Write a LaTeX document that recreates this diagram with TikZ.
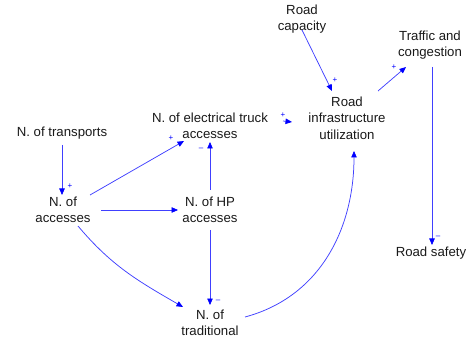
\documentclass[tikz,border=0pt]{standalone}
\usepackage{fontspec}
\setmainfont{Liberation Sans}
\usetikzlibrary{arrows.meta}
\begin{document}
\begin{tikzpicture}[x=1pt,y=-1pt,
  var/.style={align=center,font=\fontsize{13.2}{16.5}\selectfont,inner sep=1pt,text=black!90},
  link/.style={draw=blue!75,line width=0.75pt,-{Triangle[length=6.5pt,width=5.5pt,fill=blue,color=blue]}},
  pol/.style={text=blue,font=\fontsize{8}{8}\selectfont,inner sep=0pt}]
\useasboundingbox (0,0) rectangle (474,339);
\node[var] (cap) at (302,19) {Road\\capacity};
\node[var] (traf) at (430,45) {Traffic and\\congestion};
\node[var] (riu) at (347,118) {Road\\infrastructure\\utilization};
\node[var] (elec) at (210,126) {N. of electrical truck\\accesses};
\node[var] (trans) at (62,133) {N. of transports};
\node[var] (acc) at (63,210) {N. of\\accesses};
\node[var] (hp) at (210,210) {N. of HP\\accesses};
\node[var] (trad) at (210,323) {N. of\\traditional};
\node[var] (safe) at (431,253) {Road safety};

\coordinate (capS) at (302,30);
\coordinate (riuN) at (332,91);
\draw[link] (capS) -- (riuN);
\node[pol] at (335,80) {+};

\coordinate (riuNE) at (378,91);
\coordinate (trafS) at (406,67);
\draw[link] (riuNE) -- (trafS);
\node[pol] at (394,67) {+};

\coordinate (trafB) at (432,67);
\coordinate (safeN) at (432,245);
\draw[link] (trafB) -- (safeN);
\node[pol] at (438,237) {--};

\coordinate (transS) at (62,145);
\coordinate (accN) at (62,195);
\draw[link] (transS) -- (accN);
\node[pol] at (70,186) {+};

\coordinate (accNE) at (90,195);
\coordinate (elecSW) at (184,141);
\draw[link] (accNE) -- (elecSW);
\node[pol] at (171,138) {+};

\coordinate (accE) at (101,210);
\coordinate (hpW) at (178,210);
\draw[link] (accE) -- (hpW);

\coordinate (hpN) at (210,190);
\coordinate (elecS) at (210,142);
\draw[link] (hpN) -- (elecS);
\node[pol] at (201,149) {--};

\coordinate (hpS) at (210,230);
\coordinate (tradN) at (210,305);
\draw[link] (hpS) -- (tradN);
\node[pol] at (218,301) {--};

\coordinate (accSE) at (78,226);
\coordinate (tradNW) at (183,307);
\draw[link] (accSE) to[out=-50,in=150] (tradNW);

\coordinate (tradE) at (245,317);
\coordinate (riuS) at (354,151);
\draw[link] (tradE) to[out=15,in=-90] (riuS);

\coordinate (elecE) at (283,121);
\coordinate (riuW) at (292,122);
\draw[link] (elecE) -- (riuW);
\node[pol] at (283,115) {+};
\end{tikzpicture}
\end{document}
